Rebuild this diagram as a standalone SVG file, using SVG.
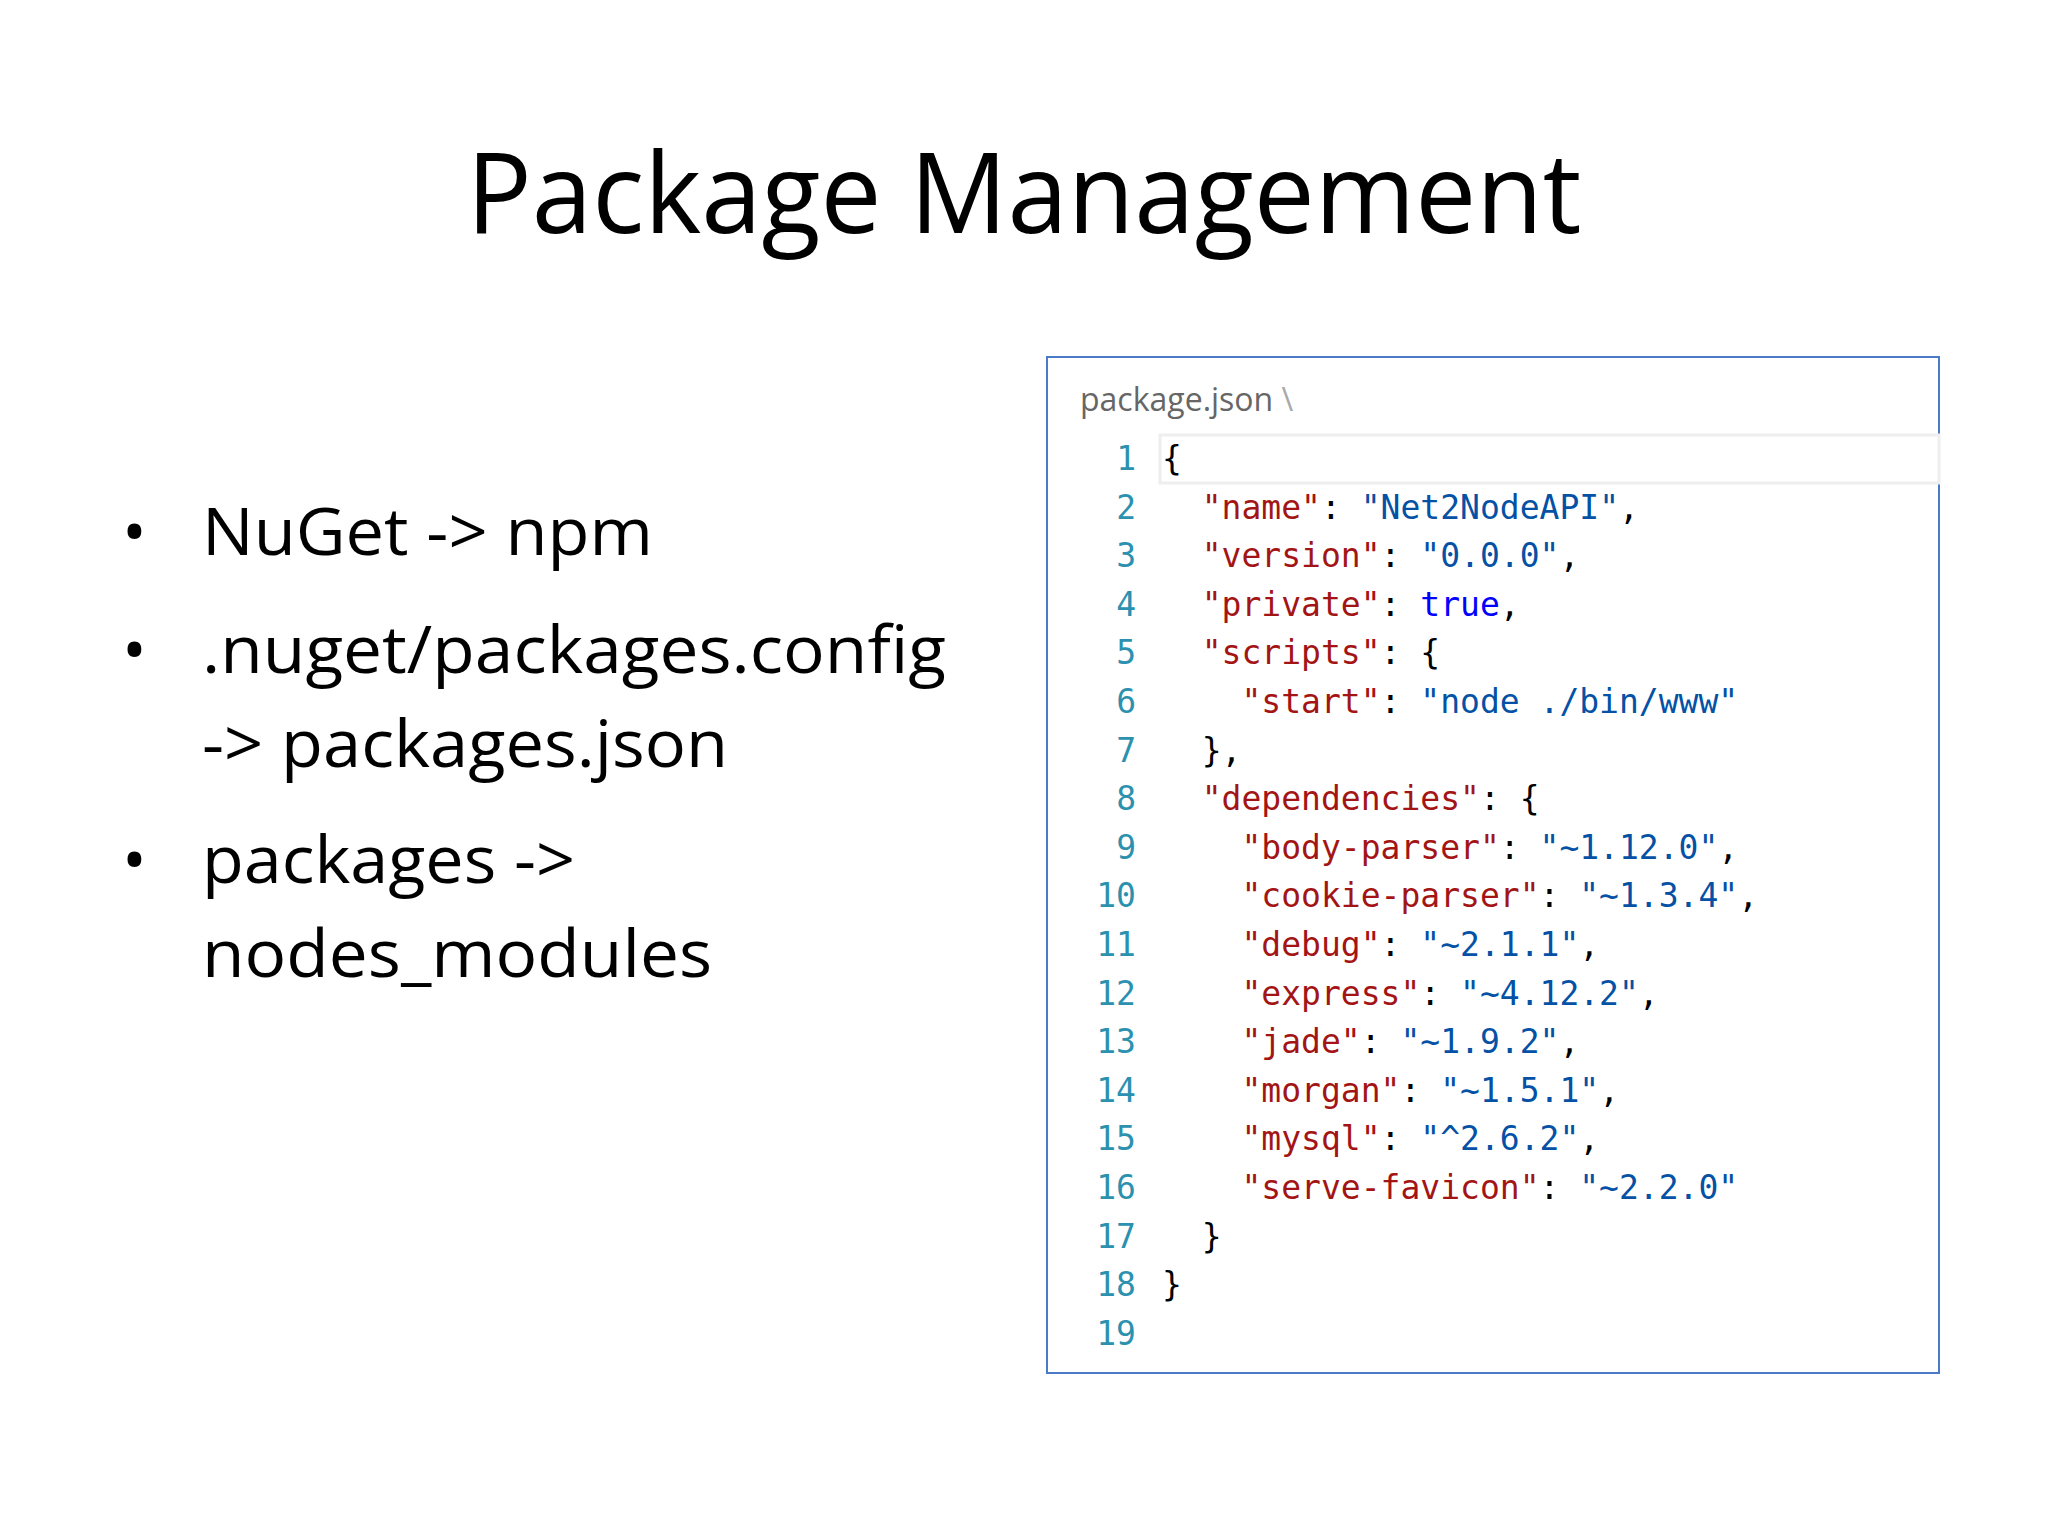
<svg xmlns="http://www.w3.org/2000/svg" width="2048" height="1536" viewBox="0 0 2048 1536">
<style>
.t{font-family:"Open Sans","Liberation Sans",sans-serif;fill:#000}
.c{font-family:"DejaVu Sans Mono","Liberation Mono",monospace;font-size:33px;fill:#000;white-space:pre}
.n{fill:#2b91af;text-anchor:end}
.k{fill:#a31515}.s{fill:#0451a5}.b{fill:#0000ff}
</style>
<rect width="2048" height="1536" fill="#fff"/>
<g id="title"><text class="t" x="1024" y="233" font-size="112" text-anchor="middle" textLength="1115" lengthAdjust="spacingAndGlyphs">Package Management</text></g>
<g id="bullets" class="t" font-size="66">
<text x="122" y="555">•</text><text x="202" y="555" textLength="451" lengthAdjust="spacingAndGlyphs">NuGet -&gt; npm</text>
<text x="122" y="673">•</text><text x="202" y="673" textLength="744" lengthAdjust="spacingAndGlyphs">.nuget/packages.config</text>
<text x="202" y="767" textLength="526" lengthAdjust="spacingAndGlyphs">-&gt; packages.json</text>
<text x="122" y="883">•</text><text x="202" y="883" textLength="373" lengthAdjust="spacingAndGlyphs">packages -&gt;</text>
<text x="202" y="977" textLength="510" lengthAdjust="spacingAndGlyphs">nodes_modules</text>
</g>
<g id="code">
<rect x="1047" y="357" width="892" height="1016" fill="#fff" stroke="#4a7bc8" stroke-width="2"/>
<text x="1080" y="411" font-family="Open Sans,Liberation Sans,sans-serif" font-size="32" fill="#666">package.json <tspan fill="#aaa">\</tspan></text>
<rect x="1160" y="435" width="779" height="48" fill="none" stroke="#eee" stroke-width="3"/>
<g class="c" xml:space="preserve">
<text class="n" x="1136" y="470">1</text><text xml:space="preserve" x="1162" y="470">{</text>
<text class="n" x="1136" y="519">2</text><text xml:space="preserve" x="1162" y="519">  <tspan class="k">"name"</tspan>: <tspan class="s">"Net2NodeAPI"</tspan>,</text>
<text class="n" x="1136" y="567">3</text><text xml:space="preserve" x="1162" y="567">  <tspan class="k">"version"</tspan>: <tspan class="s">"0.0.0"</tspan>,</text>
<text class="n" x="1136" y="616">4</text><text xml:space="preserve" x="1162" y="616">  <tspan class="k">"private"</tspan>: <tspan class="b">true</tspan>,</text>
<text class="n" x="1136" y="664">5</text><text xml:space="preserve" x="1162" y="664">  <tspan class="k">"scripts"</tspan>: {</text>
<text class="n" x="1136" y="713">6</text><text xml:space="preserve" x="1162" y="713">    <tspan class="k">"start"</tspan>: <tspan class="s">"node ./bin/www"</tspan></text>
<text class="n" x="1136" y="762">7</text><text xml:space="preserve" x="1162" y="762">  },</text>
<text class="n" x="1136" y="810">8</text><text xml:space="preserve" x="1162" y="810">  <tspan class="k">"dependencies"</tspan>: {</text>
<text class="n" x="1136" y="859">9</text><text xml:space="preserve" x="1162" y="859">    <tspan class="k">"body-parser"</tspan>: <tspan class="s">"~1.12.0"</tspan>,</text>
<text class="n" x="1136" y="907">10</text><text xml:space="preserve" x="1162" y="907">    <tspan class="k">"cookie-parser"</tspan>: <tspan class="s">"~1.3.4"</tspan>,</text>
<text class="n" x="1136" y="956">11</text><text xml:space="preserve" x="1162" y="956">    <tspan class="k">"debug"</tspan>: <tspan class="s">"~2.1.1"</tspan>,</text>
<text class="n" x="1136" y="1005">12</text><text xml:space="preserve" x="1162" y="1005">    <tspan class="k">"express"</tspan>: <tspan class="s">"~4.12.2"</tspan>,</text>
<text class="n" x="1136" y="1053">13</text><text xml:space="preserve" x="1162" y="1053">    <tspan class="k">"jade"</tspan>: <tspan class="s">"~1.9.2"</tspan>,</text>
<text class="n" x="1136" y="1102">14</text><text xml:space="preserve" x="1162" y="1102">    <tspan class="k">"morgan"</tspan>: <tspan class="s">"~1.5.1"</tspan>,</text>
<text class="n" x="1136" y="1150">15</text><text xml:space="preserve" x="1162" y="1150">    <tspan class="k">"mysql"</tspan>: <tspan class="s">"^2.6.2"</tspan>,</text>
<text class="n" x="1136" y="1199">16</text><text xml:space="preserve" x="1162" y="1199">    <tspan class="k">"serve-favicon"</tspan>: <tspan class="s">"~2.2.0"</tspan></text>
<text class="n" x="1136" y="1248">17</text><text xml:space="preserve" x="1162" y="1248">  }</text>
<text class="n" x="1136" y="1296">18</text><text xml:space="preserve" x="1162" y="1296">}</text>
<text class="n" x="1136" y="1345">19</text>
</g>
</g>
</svg>
